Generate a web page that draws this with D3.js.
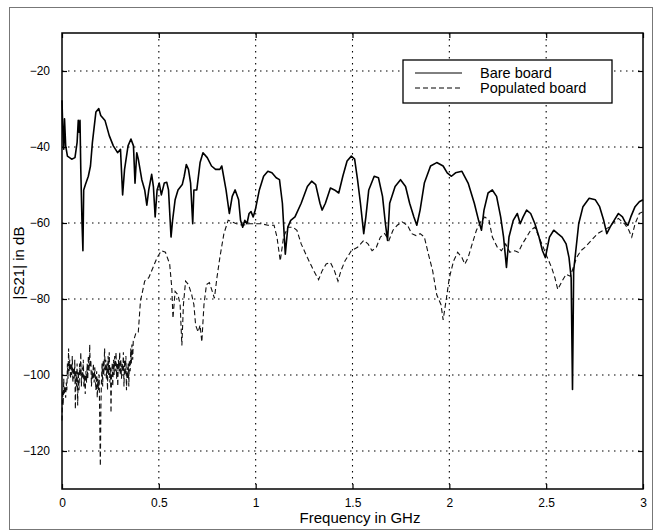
<!DOCTYPE html>
<html>
<head>
<meta charset="utf-8">
<script src="https://cdn.jsdelivr.net/npm/d3@7"></script>
<style>
  body { margin: 0; background: #fff; }
  text { font-family: "Liberation Sans", Arial, Helvetica, sans-serif; fill: #000; }
</style>
</head>
<body>
<svg id="chart" width="655" height="531"></svg>
<script>
// tick values
const xTicks = [0, 0.5, 1, 1.5, 2, 2.5, 3];
const yTicks = [-20, -40, -60, -80, -100, -120];
const seriesNames = ['Bare board', 'Populated board'];

// Bare board |S21| (GHz, dB)
const bareFreq = [0,0.004,0.009,0.013,0.019,0.028,0.05,0.067,0.078,0.084,0.088,0.093,0.097,0.103,0.108,0.112,0.121,0.136,0.147,0.157,0.175,0.19,0.2,0.222,0.244,0.265,0.287,0.302,0.313,0.323,0.341,0.356,0.369,0.377,0.386,0.394,0.412,0.427,0.438,0.448,0.463,0.472,0.481,0.491,0.502,0.513,0.528,0.541,0.55,0.563,0.571,0.584,0.599,0.621,0.631,0.642,0.653,0.664,0.675,0.681,0.696,0.713,0.728,0.75,0.772,0.793,0.815,0.825,0.847,0.864,0.879,0.894,0.912,0.922,0.933,0.944,0.955,0.966,0.976,0.987,0.998,1.019,1.041,1.063,1.084,1.106,1.123,1.138,1.153,1.166,1.181,1.203,1.235,1.267,1.289,1.31,1.332,1.343,1.36,1.386,1.407,1.429,1.45,1.472,1.494,1.511,1.526,1.541,1.558,1.569,1.584,1.612,1.634,1.655,1.67,1.681,1.692,1.72,1.748,1.774,1.795,1.817,1.832,1.849,1.871,1.903,1.935,1.968,1.989,2.011,2.032,2.065,2.097,2.129,2.151,2.166,2.179,2.2,2.222,2.244,2.265,2.28,2.295,2.308,2.33,2.351,2.366,2.381,2.399,2.42,2.442,2.463,2.481,2.496,2.517,2.539,2.56,2.582,2.603,2.618,2.629,2.636,2.642,2.653,2.668,2.69,2.722,2.754,2.776,2.797,2.813,2.83,2.851,2.873,2.894,2.912,2.922,2.937,2.959,2.981,3];
const bareDb = [-27.7,-35.2,-40.6,-32.6,-39.7,-42.4,-43.2,-42.8,-38.8,-33,-36.1,-33,-45.9,-59.3,-67.3,-51.3,-49.9,-47.7,-45,-38.8,-30.8,-29.9,-31.7,-33,-37,-39.7,-41.5,-40.6,-52.6,-45.9,-39.7,-37.9,-39.7,-49.5,-41.5,-43.2,-48.6,-51.3,-55.3,-51.3,-47.2,-50.4,-58.4,-51.3,-49.5,-52.6,-49.5,-49.3,-51.3,-63.7,-59.3,-53.9,-51.3,-49.9,-47.7,-44.6,-45.9,-49.5,-60.2,-51.3,-51.3,-44.1,-41.5,-42.8,-45,-45.9,-45.9,-45,-51.3,-57.5,-53,-51.3,-53.9,-59.3,-61.1,-59.3,-60.2,-57.5,-57,-58.4,-56.6,-51.3,-47.7,-46.4,-46.8,-48.1,-48.6,-54.8,-68.2,-61.1,-59.3,-58.4,-54.8,-50.4,-49,-49.9,-54.8,-56.6,-54.8,-50.8,-51.3,-52.1,-47.7,-43.7,-42.4,-43.2,-48.6,-54.8,-62.8,-58.4,-51.3,-47.7,-48.1,-53,-60.2,-64.6,-54.8,-50.4,-48.6,-50.4,-54.8,-58.4,-60.6,-56.6,-49.5,-45,-44.1,-45,-46.8,-47.7,-46.8,-46.4,-49.5,-54.8,-59.3,-61.9,-56.6,-52.1,-51.3,-53,-58.4,-63.7,-71.7,-63.7,-59.3,-57.5,-60.2,-58.4,-56.6,-57.5,-60.2,-63.7,-67.3,-69.1,-63.7,-61.9,-62.8,-63.7,-65.5,-69.1,-74.4,-103.8,-72.6,-67.3,-60.2,-55.7,-53.5,-53.9,-55.7,-59.3,-62.8,-61.1,-59.3,-57.5,-58.4,-60.2,-60.6,-58.4,-55.7,-54.4,-53.9];

// Populated board |S21| (GHz, dB)
const popFreq = [0,0.003,0.006,0.009,0.012,0.015,0.019,0.022,0.025,0.028,0.031,0.034,0.037,0.04,0.044,0.047,0.05,0.053,0.056,0.059,0.063,0.066,0.069,0.072,0.075,0.078,0.081,0.084,0.088,0.091,0.094,0.097,0.1,0.104,0.107,0.11,0.113,0.117,0.12,0.123,0.127,0.13,0.133,0.136,0.14,0.143,0.146,0.149,0.152,0.156,0.159,0.162,0.166,0.169,0.172,0.175,0.179,0.182,0.185,0.189,0.192,0.195,0.198,0.201,0.204,0.207,0.21,0.213,0.216,0.22,0.223,0.226,0.229,0.232,0.235,0.238,0.241,0.244,0.247,0.25,0.253,0.256,0.259,0.262,0.266,0.269,0.272,0.275,0.279,0.282,0.285,0.288,0.291,0.295,0.298,0.301,0.304,0.307,0.311,0.314,0.317,0.32,0.323,0.326,0.33,0.333,0.336,0.339,0.342,0.345,0.348,0.352,0.355,0.358,0.361,0.365,0.368,0.373,0.383,0.394,0.405,0.427,0.448,0.47,0.491,0.513,0.534,0.556,0.567,0.573,0.584,0.599,0.61,0.619,0.627,0.638,0.653,0.67,0.681,0.69,0.703,0.713,0.722,0.733,0.746,0.761,0.776,0.787,0.8,0.815,0.836,0.858,0.879,0.901,0.933,0.966,0.998,1.03,1.063,1.095,1.11,1.127,1.144,1.166,1.192,1.213,1.235,1.267,1.3,1.325,1.343,1.364,1.386,1.407,1.425,1.44,1.461,1.494,1.526,1.558,1.58,1.601,1.623,1.644,1.666,1.688,1.709,1.731,1.756,1.784,1.806,1.828,1.849,1.871,1.892,1.914,1.935,1.957,1.968,1.985,2,2.022,2.043,2.065,2.08,2.097,2.118,2.14,2.162,2.183,2.205,2.222,2.248,2.269,2.291,2.312,2.338,2.356,2.377,2.399,2.42,2.442,2.463,2.485,2.506,2.528,2.545,2.56,2.582,2.603,2.625,2.64,2.657,2.679,2.7,2.733,2.765,2.797,2.825,2.851,2.873,2.905,2.927,2.942,2.959,2.981,3];
const popDb = [-112,-104,-108,-101,-105,-103,-106,-102,-104,-97,-101,-93,-99,-96,-101,-97,-100,-95,-102,-98,-101,-96,-109,-99,-103,-97,-108,-99,-104,-97,-100,-94,-103,-98,-101,-96,-103,-100,-105,-99,-102,-97,-101,-95,-99,-92,-98,-96,-103,-99,-101,-97,-102,-98,-100,-104,-99,-106,-101,-104,-100,-113,-124,-108,-101,-97,-103,-96,-100,-93,-99,-96,-101,-97,-104,-95,-100,-94,-102,-98,-110,-100,-97,-103,-96,-100,-95,-99,-94,-101,-97,-103,-96,-99,-94,-100,-96,-101,-97,-99,-94,-103,-96,-100,-95,-104,-98,-101,-97,-103,-96,-99,-93,-97,-92,-96,-91,-90.4,-88.7,-88.7,-80.6,-75.3,-74.4,-71.7,-69.1,-67.3,-67.7,-70.8,-77.1,-85.1,-78,-78.9,-81.5,-92.2,-81.5,-75.3,-76.2,-78.9,-81.5,-86.9,-88.7,-86.9,-91.3,-81.5,-76.2,-75.7,-78,-79.8,-74.4,-69.1,-62.8,-59.3,-59.7,-60.2,-60.6,-60.2,-60.2,-60.2,-60.6,-60.6,-63.7,-70,-63.7,-61.1,-61.1,-61.9,-65.5,-69.1,-72.6,-74.9,-72.6,-70.8,-70.4,-72.6,-75.3,-72.6,-70,-67.3,-66.4,-64.6,-65.5,-67.3,-66.4,-63.7,-62.8,-64.6,-61.9,-60.6,-59.7,-60.6,-62.8,-63.3,-62.8,-63.7,-68.2,-72.6,-78.9,-81.5,-85.5,-79.8,-74.4,-70,-67.7,-69.1,-70.8,-69.1,-65.5,-61.9,-59.7,-58.4,-59.3,-63.7,-66.4,-67.3,-65.5,-67.7,-67.3,-67.7,-65.5,-63.7,-61.9,-61.1,-63.7,-66.4,-69.1,-71.7,-74.4,-77.5,-75.3,-73.5,-74,-71.7,-69.1,-67.3,-66.4,-64.6,-62.8,-61.9,-61.1,-59.7,-58.8,-60.2,-61.9,-63.7,-60.2,-57.5,-57];

const svg = d3.select('#chart');
const plot = {left: 62, right: 643, top: 33, bottom: 489};

// outer frame of the scanned figure
svg.append('rect')
    .attr('x', 9.5).attr('y', 7.5)
    .attr('width', 643).attr('height', 522)
    .attr('fill', 'none')
    .attr('stroke', '#777')
    .attr('stroke-width', 1);

const xScale = d3.scaleLinear().domain([0, 3]).range([plot.left, plot.right]);
const yScale = d3.scaleLinear().domain([-130, -10]).range([plot.bottom, plot.top]);

// dotted grid
const grid = svg.append('g').attr('class', 'grid')
    .attr('stroke', '#000').attr('stroke-width', 1.1)
    .attr('stroke-dasharray', '1.5,4.5');
grid.selectAll('line.gx')
    .data(xTicks.filter(d => d > 0 && d < 3))
    .enter().append('line')
    .attr('x1', d => xScale(d)).attr('x2', d => xScale(d))
    .attr('y1', plot.top).attr('y2', plot.bottom);
grid.selectAll('line.gy')
    .data(yTicks)
    .enter().append('line')
    .attr('x1', plot.left).attr('x2', plot.right)
    .attr('y1', d => yScale(d)).attr('y2', d => yScale(d));

// curves
const line = d3.line()
    .x(d => xScale(d[0]))
    .y(d => yScale(d[1]));

svg.append('path')
    .datum(popFreq.map((f, i) => [f, popDb[i]]))
    .attr('d', line)
    .attr('fill', 'none')
    .attr('stroke', '#111')
    .attr('stroke-width', 1.1)
    .attr('stroke-dasharray', '5,3');

svg.append('path')
    .datum(bareFreq.map((f, i) => [f, bareDb[i]]))
    .attr('d', line)
    .attr('fill', 'none')
    .attr('stroke', '#000')
    .attr('stroke-width', 1.6)
    .attr('stroke-linejoin', 'round');

// axes (inward ticks on all four sides, MATLAB box style)
const xAxisB = d3.axisBottom(xScale).tickValues(xTicks).tickSizeInner(-5).tickSizeOuter(0).tickPadding(9).tickFormat(d3.format('~g'));
const xAxisT = d3.axisTop(xScale).tickValues(xTicks).tickSizeInner(-5).tickSizeOuter(0).tickFormat('');
const yAxisL = d3.axisLeft(yScale).tickValues(yTicks).tickSizeInner(-5).tickSizeOuter(0).tickPadding(12);
const yAxisR = d3.axisRight(yScale).tickValues(yTicks).tickSizeInner(-5).tickSizeOuter(0).tickFormat('');

svg.append('g').attr('transform', `translate(0,${plot.bottom})`).call(xAxisB);
svg.append('g').attr('transform', `translate(0,${plot.top})`).call(xAxisT);
svg.append('g').attr('transform', `translate(${plot.left},0)`).call(yAxisL);
svg.append('g').attr('transform', `translate(${plot.right},0)`).call(yAxisR);

svg.selectAll('.domain').remove();
svg.selectAll('.tick line').attr('stroke', '#000').attr('stroke-width', 1.2);
svg.selectAll('.tick text')
    .style('font-family', '"Liberation Sans", Arial, sans-serif')
    .style('font-size', '12px')
    .attr('fill', '#000');

// plot box
svg.append('rect')
    .attr('x', plot.left).attr('y', plot.top)
    .attr('width', plot.right - plot.left).attr('height', plot.bottom - plot.top)
    .attr('fill', 'none')
    .attr('stroke', '#000')
    .attr('stroke-width', 1.5);

// axis titles
svg.append('text')
    .attr('x', 360).attr('y', 523)
    .attr('text-anchor', 'middle')
    .attr('font-size', '15px')
    .text('Frequency in GHz');

svg.append('text')
    .attr('transform', 'translate(24,263) rotate(-90)')
    .attr('text-anchor', 'middle')
    .attr('font-size', '15px')
    .text('|S21| in dB');

// legend
const legend = svg.append('g').attr('class', 'legend');
legend.append('rect')
    .attr('x', 403).attr('y', 60)
    .attr('width', 209).attr('height', 43)
    .attr('fill', '#fff')
    .attr('stroke', '#000')
    .attr('stroke-width', 1.3);

const legendRows = legend.selectAll('g.row')
    .data(seriesNames)
    .enter().append('g')
    .attr('class', 'row')
    .attr('transform', (d, i) => `translate(0,${73 + i * 15})`);

legendRows.append('line')
    .attr('x1', 415).attr('x2', 462)
    .attr('y1', 0).attr('y2', 0)
    .attr('stroke', '#000')
    .attr('stroke-width', 1)
    .attr('stroke-dasharray', (d, i) => i === 0 ? null : '5,3');

legendRows.append('text')
    .attr('x', 480).attr('y', 5)
    .attr('font-size', '14.5px')
    .text(d => d);
</script>
</body>
</html>
